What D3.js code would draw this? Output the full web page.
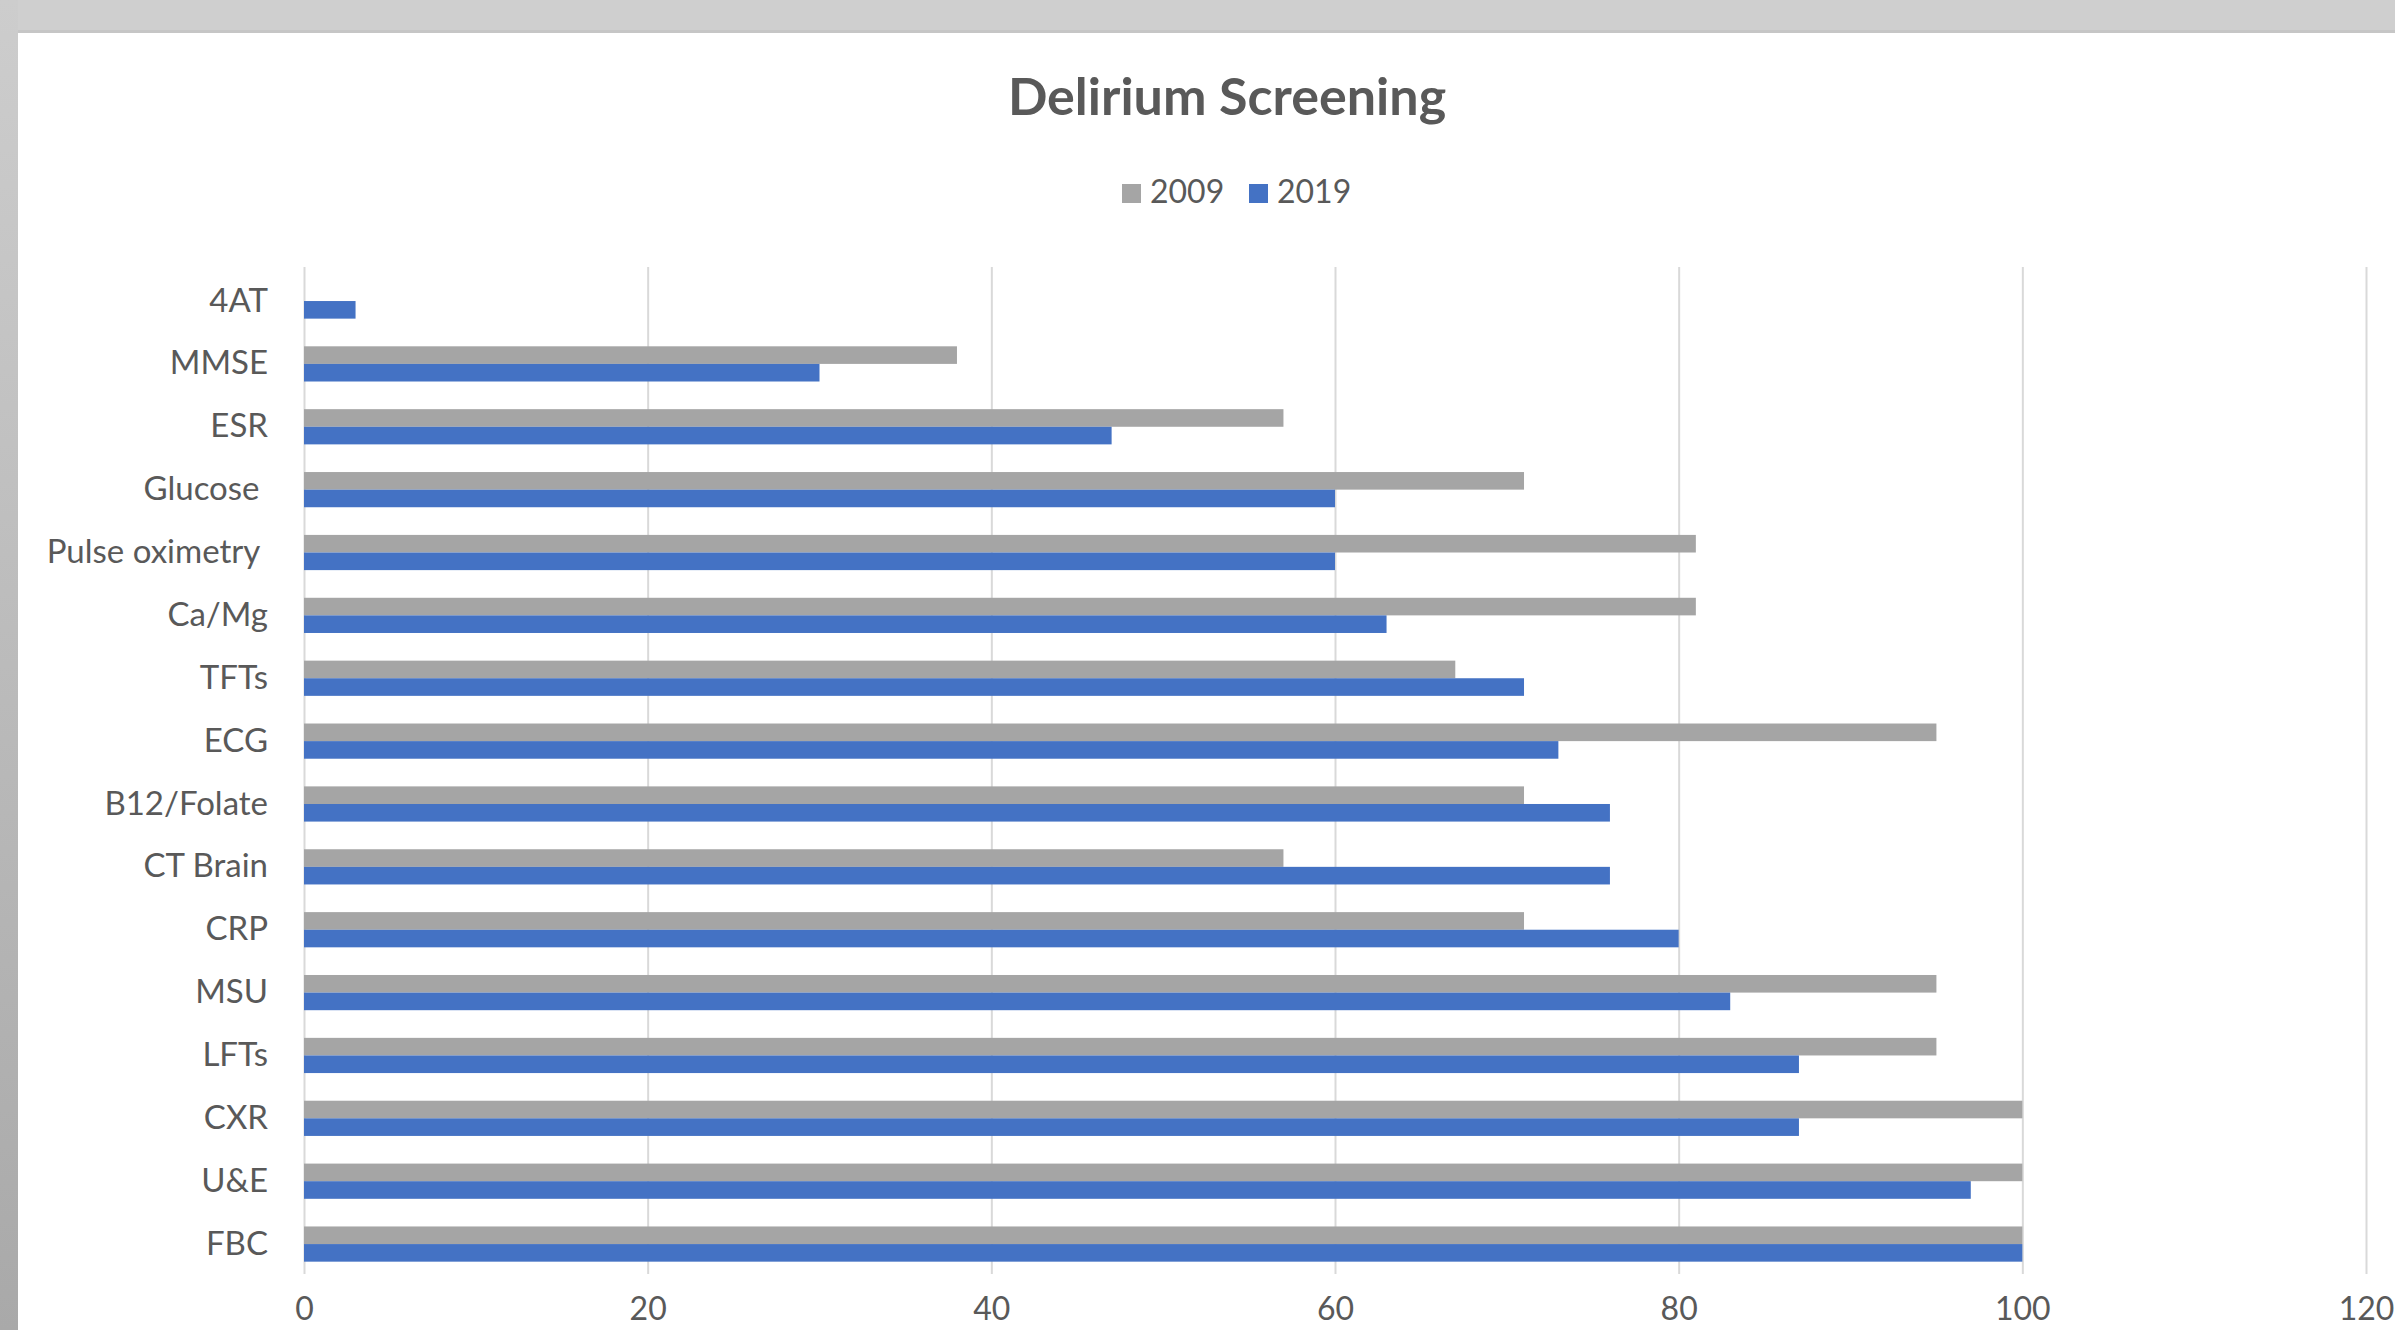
<!DOCTYPE html>
<html>
<head>
<meta charset="utf-8">
<script src="https://cdn.jsdelivr.net/npm/d3@7"></script>
<style>
  html, body { margin: 0; padding: 0; background: #ffffff; overflow: hidden; }
  text { font-family: Lato, "Noto Sans", sans-serif; }
</style>
</head>
<body>
<svg id="chart" width="2395" height="1330"></svg>
<script>
// ---- data ----
const categories = ["4AT", "MMSE", "ESR", "Glucose ", "Pulse oximetry ", "Ca/Mg", "TFTs", "ECG",
  "B12/Folate", "CT Brain", "CRP", "MSU", "LFTs", "CXR", "U&E", "FBC"];
const seriesNames = ["2009", "2019"];
const values2009 = [0, 38, 57, 71, 81, 81, 67, 95, 71, 57, 71, 95, 95, 100, 100, 100];
const values2019 = [3, 30, 47, 60, 60, 63, 71, 73, 76, 76, 80, 83, 87, 87, 97, 100];
const xTicks = [0, 20, 40, 60, 80, 100, 120];
const titleText = "Delirium Screening";

// ---- layout ----
const W = 2395, H = 1330;
const colors = { "2009": "#a5a5a5", "2019": "#4472c4" };
const textColor = "#595959";
const svg = d3.select("#chart");

// background frame (screenshot border)
const defs = svg.append("defs");
const lg = defs.append("linearGradient").attr("id", "leftBand").attr("x1", 0).attr("y1", 0).attr("x2", 0).attr("y2", 1);
lg.append("stop").attr("offset", "0%").attr("stop-color", "#cdcdcd");
lg.append("stop").attr("offset", "100%").attr("stop-color", "#a9a9a9");
svg.append("rect").attr("x", 0).attr("y", 0).attr("width", W).attr("height", H).attr("fill", "#ffffff");
svg.append("rect").attr("x", 0).attr("y", 0).attr("width", W).attr("height", 32).attr("fill", "#cfcfcf");
svg.append("rect").attr("x", 0).attr("y", 30).attr("width", W).attr("height", 3).attr("fill", "#c6c6c6");
svg.append("rect").attr("x", 0).attr("y", 0).attr("width", 18).attr("height", H).attr("fill", "url(#leftBand)");

const x = d3.scaleLinear().domain([0, 120]).range([304, 2366]);
const y = d3.scaleBand().domain(categories).range([269.6, 1275.5]).paddingInner(0.44).paddingOuter(0.22);
const ySub = d3.scaleBand().domain(seriesNames).range([0, y.bandwidth()]);

const gridTop = 267, gridBottom = 1274;

// gridlines via axis
const gx = svg.append("g").attr("transform", `translate(0,${gridBottom})`)
  .call(d3.axisBottom(x).tickValues(xTicks).tickSize(-(gridBottom - gridTop)).tickFormat(""));
gx.select(".domain").remove();
gx.selectAll(".tick line").attr("stroke", "#d9d9d9").attr("stroke-width", 2);

// bars
const rows = categories.map((c, i) => ({ cat: c, vals: [values2009[i], values2019[i]] }));
const grp = svg.append("g").selectAll("g").data(rows).join("g")
  .attr("transform", d => `translate(0,${y(d.cat)})`);
grp.selectAll("rect").data(d => seriesNames.map((s, k) => ({ s, v: d.vals[k] })))
  .join("rect")
  .attr("x", x(0))
  .attr("y", d => ySub(d.s))
  .attr("width", d => x(d.v) - x(0))
  .attr("height", ySub.bandwidth())
  .attr("fill", d => colors[d.s]);

// x tick labels
const xl = svg.append("g").attr("transform", `translate(0,1320)`)
  .call(d3.axisBottom(x).tickValues(xTicks).tickSize(0).tickPadding(0).tickFormat(d3.format("d")));
xl.select(".domain").remove();
xl.selectAll("text").attr("font-size", 32).attr("fill", textColor).attr("dy", "0em")
  .style("font-family", "Lato, sans-serif");

// y labels
const yl = svg.append("g").attr("transform", `translate(268,0)`)
  .call(d3.axisLeft(y).tickSize(0).tickPadding(0));
yl.select(".domain").remove();
yl.selectAll("text").attr("font-size", 33).attr("fill", textColor)
  .style("white-space", "pre").style("font-family", "Lato, sans-serif");

// title
svg.append("text").attr("x", 1227).attr("y", 115).attr("text-anchor", "middle")
  .attr("font-size", 52).attr("font-weight", "bold").attr("fill", textColor).text(titleText);

// legend
const legendItems = [{ s: "2009", x: 1122 }, { s: "2019", x: 1249 }];
const lgG = svg.append("g").selectAll("g").data(legendItems).join("g")
  .attr("transform", d => `translate(${d.x},0)`);
lgG.append("rect").attr("x", 0).attr("y", 184).attr("width", 19).attr("height", 19).attr("fill", d => colors[d.s]);
lgG.append("text").attr("x", 28).attr("y", 203).attr("font-size", 32).attr("fill", textColor).text(d => d.s);
</script>
</body>
</html>
